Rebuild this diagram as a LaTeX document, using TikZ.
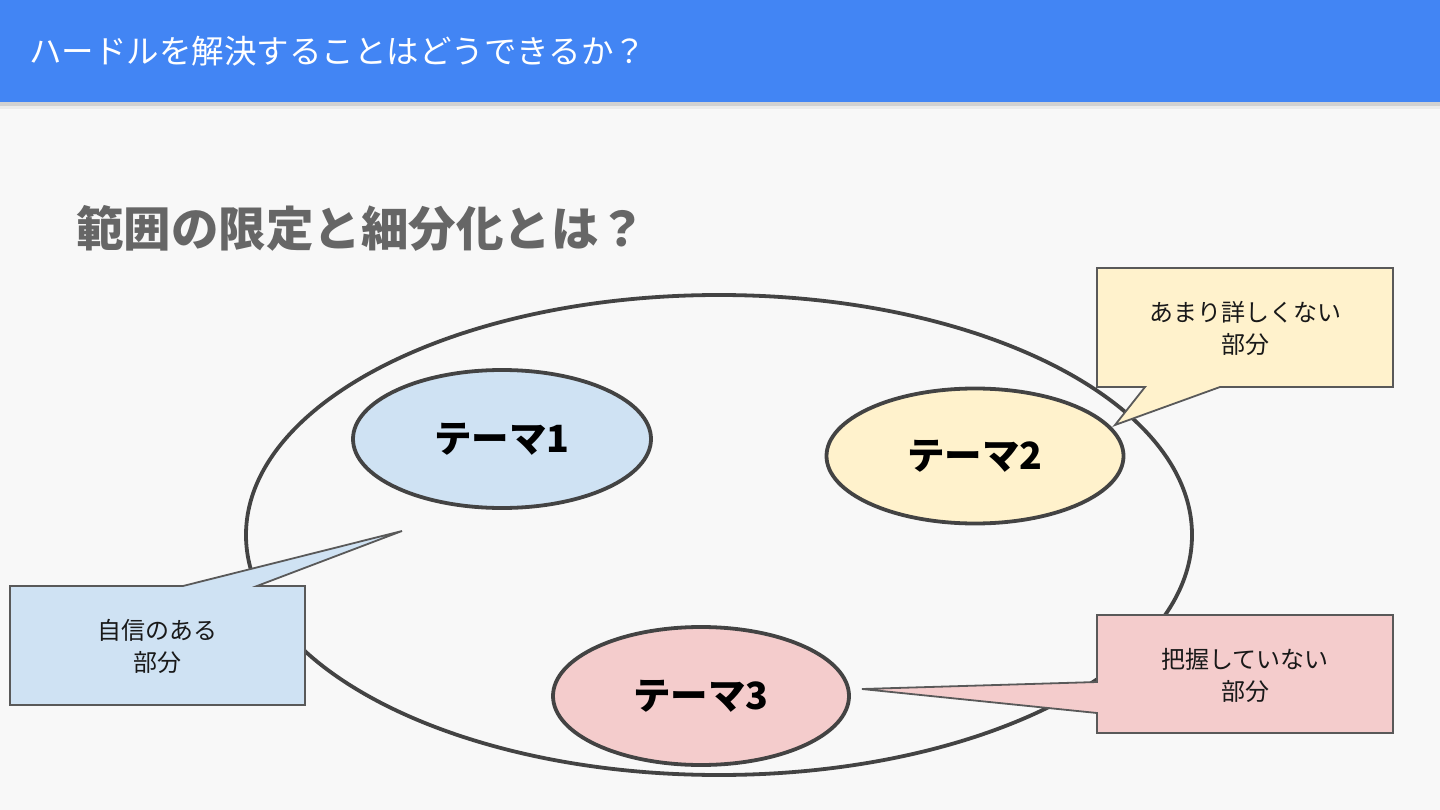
\documentclass[tikz,border=0pt]{standalone}
\usepackage{fontspec}
\newfontfamily\jp{Noto Sans CJK JP}
\definecolor{hdr}{HTML}{4285F4}
\definecolor{bg}{HTML}{F8F8F8}
\definecolor{edge}{HTML}{434343}
\definecolor{cedge}{HTML}{595959}
\definecolor{tgray}{HTML}{666666}
\definecolor{fblue}{HTML}{CFE2F3}
\definecolor{fyel}{HTML}{FFF2CC}
\definecolor{fpink}{HTML}{F4CCCC}
\tikzset{
  themeell/.style={ellipse, draw=edge, line width=3.8pt, inner sep=0pt},
  themetxt/.style={font=\jp\bfseries\fontsize{37.5}{42}\selectfont, text=black},
  callbox/.style={draw=cedge, line width=1.8pt, line join=miter},
  calltxt/.style={font=\jp\fontsize{24}{32}\selectfont, align=center, text=black!90},
}
\usetikzlibrary{shapes.geometric}
\begin{document}
\begin{tikzpicture}[x=1pt,y=-1pt]
\useasboundingbox (0,0) rectangle (1440,810);
\fill[bg] (0,0) rectangle (1440,810);
% header with shadow
\fill[black!18] (0,102) rectangle (1440,106);
\fill[black!8] (0,106) rectangle (1440,109);
\fill[hdr] (0,0) rectangle (1440,102);
\node[anchor=west, text=white, font=\jp\fontsize{32.5}{36}\selectfont, inner sep=0pt] (hdrtxt) at (29,51) {ハードルを解決することはどうできるか？};
% subtitle
\node[anchor=west, text=tgray, font=\jp\bfseries\fontsize{47.5}{52}\selectfont, inner sep=0pt] (title) at (76,228) {範囲の限定と細分化とは？};
% big ellipse
\node[themeell, minimum width=946pt, minimum height=480pt] (big) at (719,535) {};
% themes
\node[themeell, fill=fblue, minimum width=298pt, minimum height=138pt] (t1) at (502,439) {};
\node[themetxt] at (t1.center) {テーマ1};
\node[themeell, fill=fyel, minimum width=297pt, minimum height=135pt] (t2) at (975,456) {};
\node[themetxt] at (t2.center) {テーマ2};
\node[themeell, fill=fpink, minimum width=296pt, minimum height=138pt] (t3) at (701,696) {};
\node[themetxt] at (t3.center) {テーマ3};
% callout 1
\coordinate (p1) at (402,531);
\filldraw[callbox, fill=fblue] (10,586) -- (183,586) -- (p1) -- (257,586) -- (305,586) -- (305,705) -- (10,705) -- cycle;
\node[calltxt] (c1) at (157.5,646) {自信のある\\部分};
% callout 2
\coordinate (p2) at (1115,425);
\filldraw[callbox, fill=fyel] (1097,268) -- (1393,268) -- (1393,387) -- (1220,387) -- (p2) -- (1145,387) -- (1097,387) -- cycle;
\node[calltxt] (c2) at (1245,328) {あまり詳しくない\\部分};
% callout 3
\coordinate (p3) at (862,689);
\filldraw[callbox, fill=fpink] (1097,615) -- (1393,615) -- (1393,733) -- (1097,733) -- (1097,713) -- (p3) -- (1097,682) -- cycle;
\node[calltxt] (c3) at (1245,675) {把握していない\\部分};
\end{tikzpicture}
\end{document}
